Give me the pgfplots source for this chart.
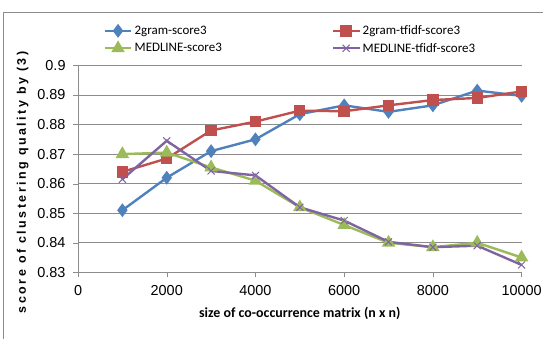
\documentclass[border=0pt]{standalone}
\usepackage{fontspec}
\setmainfont{Carlito}
\newfontfamily\ylabfont[LetterSpace=20]{Liberation Sans}
\newfontfamily\tickfont{Liberation Sans}
\usepackage{pgfplots}
\pgfplotsset{compat=1.18}
\definecolor{cblue}{HTML}{4F81BD}
\definecolor{cred}{HTML}{C0504D}
\definecolor{cgreen}{HTML}{9BBB59}
\definecolor{cpurple}{HTML}{8064A2}
\definecolor{cgrid}{HTML}{8C8C8C}
\begin{document}
\begin{tikzpicture}
\begin{axis}[
  scale only axis, width=445.2pt, height=207.6pt,
  xmin=0, xmax=10000, ymin=0.83, ymax=0.9,
  xtick={0,2000,...,10000},
  ytick={0.83,0.84,0.85,0.86,0.87,0.88,0.89,0.9},
  scaled x ticks=false, scaled y ticks=false,
  /pgf/number format/1000 sep={},
  /pgf/number format/assume math mode=true,
  yticklabel style={/pgf/number format/fixed, /pgf/number format/precision=2, xshift=-4pt},
  xticklabel style={yshift=-5pt},
  ticklabel style={font=\tickfont\fontsize{14.5}{17}\selectfont},
  axis lines*=left,
  axis line style={cgrid},
  tick style={cgrid},
  tick align=outside, major tick length=5pt,
  ymajorgrids, grid style={cgrid, line width=0.8pt},
  xlabel={\bfseries size of co-occurrence matrix (n x n)},
  xlabel style={font=\fontsize{14}{16}\selectfont, at={(rel axis cs:0.5,-0.201)}, anchor=center},
  ylabel={\ylabfont\bfseries score of clustering quality by (3)},
  ylabel style={font=\fontsize{12.5}{14}\selectfont, at={(rel axis cs:-0.1245,0.435)}, anchor=center, rotate=0},
  clip=false,
  legend columns=2,
  legend cell align=left,
  legend style={draw=none, fill=none, font=\fontsize{13}{15}\selectfont,
    at={(rel axis cs:0.05,1.213)}, anchor=north west, row sep=3pt,
    /tikz/every even column/.append style={column sep=108pt}},
  legend image code/.code={\draw[mark repeat=2,mark phase=2] plot coordinates {(0pt,0pt) (13.5pt,0pt) (27pt,0pt)};},
  every axis plot/.append style={line width=2.4pt},
]
\path (rel axis cs:-0.1759,-0.3213) rectangle (rel axis cs:1.0483,1.3165);
\draw[cgrid, line width=0.8pt] (rel axis cs:-0.169,-0.3213) -- (rel axis cs:-0.169,1.2587) -- (rel axis cs:1.0483,1.2587);
\addplot[cblue, mark=diamond*, mark size=5pt, mark options={solid}] coordinates {
(1000,0.851) (2000,0.862) (3000,0.871) (4000,0.875) (5000,0.8835) (6000,0.8865) (7000,0.8843) (8000,0.8865) (9000,0.8915) (10000,0.8897)};
\addlegendentry{2gram-score3}
\addplot[cred, mark=square*, mark size=4.5pt] coordinates {
(1000,0.864) (2000,0.8685) (3000,0.878) (4000,0.881) (5000,0.8847) (6000,0.8845) (7000,0.8865) (8000,0.8883) (9000,0.889) (10000,0.8912)};
\addlegendentry{2gram-tfidf-score3}
\addplot[cgreen, mark=triangle*, mark size=5.5pt] coordinates {
(1000,0.870) (2000,0.8705) (3000,0.8655) (4000,0.861) (5000,0.852) (6000,0.846) (7000,0.840) (8000,0.8385) (9000,0.840) (10000,0.835)};
\addlegendentry{MEDLINE-score3}
\addplot[cpurple, mark=x, mark size=5pt, mark options={line width=1pt}] coordinates {
(1000,0.8615) (2000,0.8745) (3000,0.8643) (4000,0.8628) (5000,0.852) (6000,0.8475) (7000,0.8403) (8000,0.8385) (9000,0.839) (10000,0.8325)};
\addlegendentry{MEDLINE-tfidf-score3}
\end{axis}
\end{tikzpicture}
\end{document}
